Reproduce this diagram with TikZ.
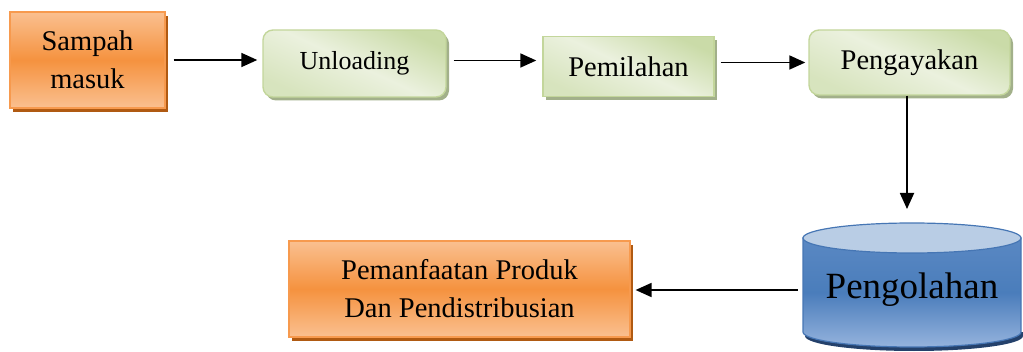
\documentclass[tikz,border=0pt]{standalone}
\usepackage{fontspec}
\setmainfont{Liberation Serif}
\usetikzlibrary{positioning,arrows.meta,shadows}

\definecolor{orgLight}{HTML}{FAC090}
\definecolor{orgMid}{HTML}{F5923F}
\definecolor{orgLine}{HTML}{F79A4E}
\definecolor{orgShadow}{HTML}{B05A12}
\definecolor{grnLight}{HTML}{EBF1DE}
\definecolor{grnMid}{HTML}{CADBA8}
\definecolor{grnLine}{HTML}{C3D69B}
\definecolor{grnShadow}{HTML}{A2B08A}
\definecolor{cylTop}{HTML}{B9CDE5}
\definecolor{cylA}{HTML}{5A88C3}
\definecolor{cylB}{HTML}{4A7DBB}
\definecolor{cylC}{HTML}{95B3DD}
\definecolor{cylLine}{HTML}{4676B4}
\definecolor{cylShadow}{HTML}{24416B}

\begin{document}
\begin{tikzpicture}[x=1pt, y=1pt,
  every node/.append style={font=\fontsize{28.5}{38}\selectfont, align=center, inner sep=0pt},
  orgbox/.style={draw=orgLine, line width=1.2pt, top color=orgLight, bottom color=orgLight, middle color=orgMid,
    general shadow={fill=orgShadow, shadow xshift=3pt, shadow yshift=-4pt}},
  grnbox/.style={draw=grnLine, line width=1.4pt, top color=grnMid, bottom color=grnMid!60!grnLight,
    middle color=grnLight, shading angle=-25,
    general shadow={fill=grnShadow, shadow xshift=3pt, shadow yshift=-3.5pt}},
  flow/.style={-{Triangle[length=16pt,width=14pt]}, line width=1.8pt}]

  \useasboundingbox (0,0) rectangle (1023,351);

  \node[orgbox, minimum width=155pt, minimum height=96pt] (sampah) at (87.5,291) {Sampah\\masuk};
  \node[grnbox, rounded corners=10pt, minimum width=183pt, minimum height=67pt,
    font=\fontsize{26}{30}\selectfont] (unloading) at (354.5,287.5) {Unloading};
  \node[grnbox, minimum width=171pt, minimum height=60pt] (pemilahan) at (628.5,284.5) {Pemilahan};
  \node[grnbox, rounded corners=10pt, minimum width=201pt, minimum height=65pt] (pengayakan) at (909.5,288.5) {Pengayakan};
  \node[orgbox, minimum width=341pt, minimum height=96pt] (pemanfaatan) at (459.5,62)
    {Pemanfaatan Produk\\Dan Pendistribusian};

  % tank
  \fill[cylShadow] (805,19) -- (805,15) arc[start angle=180, end angle=360, x radius=109, y radius=15] -- (1023,19) -- cycle;
  \shade[top color=cylA, bottom color=cylC, middle color=cylB, draw=cylLine, line width=1.2pt]
    (803,113) -- (803,19) arc[start angle=180, end angle=360, x radius=109, y radius=15] -- (1021,113) -- cycle;
  \filldraw[fill=cylTop, draw=cylLine, line width=1.2pt] (912,113) ellipse[x radius=109, y radius=15];
  \node[font=\fontsize{37}{40}\selectfont, minimum width=218pt] (pengolahan) at (912,61) {Pengolahan};
  \coordinate (cyltop) at (907,142);

  \draw[flow, shorten <=8pt, shorten >=5pt] (sampah.east) -- (sampah.east -| unloading.west);
  \draw[flow, shorten <=7pt, shorten >=6pt] ([yshift=3pt]unloading.east) -- ([yshift=3pt]unloading.east -| pemilahan.west);
  \draw[flow, shorten <=6pt, shorten >=3pt] (pemilahan.east |- pengayakan.west) -- (pengayakan.west);
  \draw[flow] ([xshift=-2.5pt]pengayakan.south) -- (cyltop);
  \draw[flow, shorten <=5pt, shorten >=5pt] (pengolahan.west) -- (pengolahan.west -| pemanfaatan.east);
\end{tikzpicture}
\end{document}
